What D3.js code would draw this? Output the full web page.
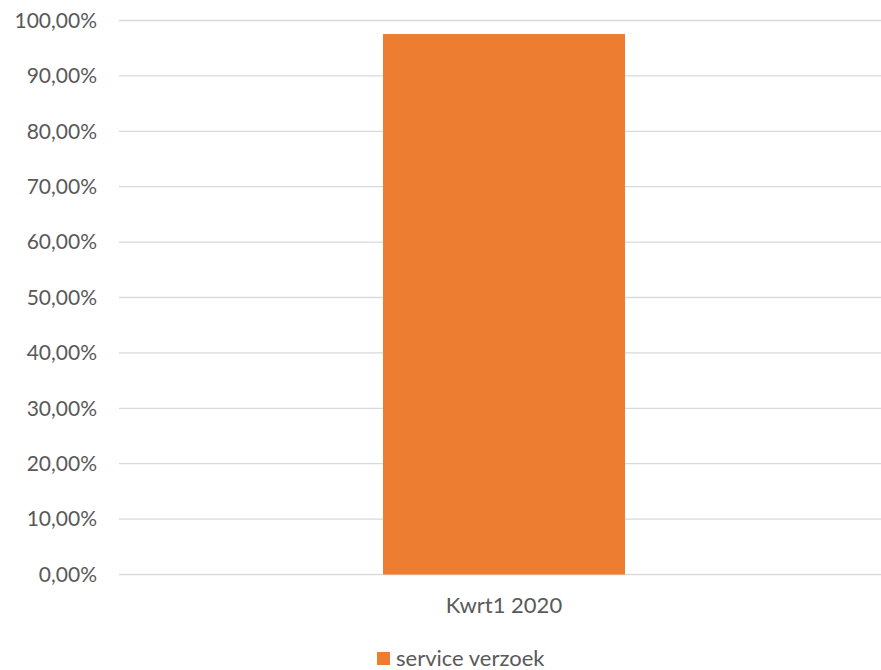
<!DOCTYPE html>
<html><head><meta charset="utf-8">
<script src="https://cdn.jsdelivr.net/npm/d3@7"></script>
<style>body{margin:0;background:#fff}svg{display:block}</style>
</head><body>
<svg id="c" width="881" height="670"></svg>
<script>
const categories = ["Kwrt1 2020"];
const seriesName = "service verzoek";
const values = [97.56];
const yTicks = [0,10,20,30,40,50,60,70,80,90,100];

(function(){
const svg = d3.select("#c");
const font = "Lato, 'Open Sans', sans-serif";
const pLeft = 119, pRight = 889, pTop = 20.5, pBottom = 574.5;
const x = d3.scaleBand().domain(categories).range([pLeft, pRight]).paddingInner(0).paddingOuter(1.091);
const y = d3.scaleLinear().domain([0,100]).range([pBottom, pTop]);
const fmt = v => d3.format(".2f")(v).replace(".", ",") + "%";

svg.append("g").selectAll("line").data(yTicks).join("line")
  .attr("x1", pLeft).attr("x2", pRight)
  .attr("y1", d => y(d)).attr("y2", d => y(d))
  .attr("stroke", "#d9d9d9").attr("stroke-width", 1.3);

svg.append("g").selectAll("text").data(yTicks).join("text")
  .attr("x", 97).attr("y", d => y(d)).attr("dy", "0.35em")
  .attr("text-anchor", "end").attr("font-family", font).attr("font-size", 21)
  .attr("fill", "#595959").text(d => fmt(d));

svg.append("g").selectAll("rect").data(values).join("rect")
  .attr("x", (d,i) => x(categories[i])).attr("width", x.bandwidth())
  .attr("y", d => y(d)).attr("height", d => y(0) - y(d))
  .attr("fill", "#ED7D31");

svg.append("g").selectAll("text").data(categories).join("text")
  .attr("x", d => x(d) + x.bandwidth()/2).attr("y", 605).attr("dy", "0.35em")
  .attr("text-anchor", "middle").attr("font-family", font).attr("font-size", 22)
  .attr("fill", "#595959").text(d => d);

const lg = svg.append("g");
lg.append("rect").attr("x", 377).attr("y", 652).attr("width", 13).attr("height", 13).attr("fill", "#ED7D31");
lg.append("text").attr("x", 396).attr("y", 658.5).attr("dy", "0.35em")
  .attr("font-family", font).attr("font-size", 22).attr("fill", "#595959").text(seriesName);
})();
</script>
</body></html>
